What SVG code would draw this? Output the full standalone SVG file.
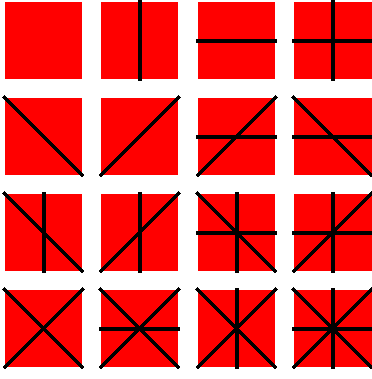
<svg xmlns="http://www.w3.org/2000/svg" width="372" height="379" viewBox="0 0 372 379">
<defs>
<style>
.sq{fill:#ff0000}
.ln{stroke:#000;stroke-width:4;shape-rendering:crispEdges;fill:none}
</style>
<rect id="s" class="sq" x="0" y="0" width="77" height="77"/>
<rect id="sw" class="sq" x="0" y="0" width="78" height="77"/>
<line id="v" class="ln" x1="38.5" y1="-2" x2="38.5" y2="79"/>
<line id="h" class="ln" x1="-2" y1="38.5" x2="79" y2="38.5"/>
<line id="d1" class="ln" x1="-1.5" y1="-1.5" x2="78.5" y2="78.5"/>
<line id="d2" class="ln" x1="-1.5" y1="78.5" x2="78.5" y2="-1.5"/>
</defs>
<rect width="372" height="379" fill="#fff"/>
<g id="c11" transform="translate(5,2)"><use href="#s"/></g>
<g id="c12" transform="translate(101,2)"><use href="#s"/><use href="#v"/></g>
<g id="c13" transform="translate(198,2)"><use href="#s"/><use href="#h"/></g>
<g id="c14" transform="translate(294,2)"><use href="#sw"/><use href="#v"/><use href="#h"/></g>
<g id="c21" transform="translate(5,98)"><use href="#s"/><use href="#d1"/></g>
<g id="c22" transform="translate(101,98)"><use href="#s"/><use href="#d2"/></g>
<g id="c23" transform="translate(198,98)"><use href="#s"/><use href="#h"/><use href="#d2"/></g>
<g id="c24" transform="translate(294,98)"><use href="#sw"/><use href="#h"/><use href="#d1"/></g>
<g id="c31" transform="translate(5,194)"><use href="#s"/><use href="#v"/><use href="#d1"/></g>
<g id="c32" transform="translate(101,194)"><use href="#s"/><use href="#v"/><use href="#d2"/></g>
<g id="c33" transform="translate(198,194)"><use href="#s"/><use href="#v"/><use href="#h"/><use href="#d1"/></g>
<g id="c34" transform="translate(294,194)"><use href="#sw"/><use href="#v"/><use href="#h"/><use href="#d2"/></g>
<g id="c41" transform="translate(5,290)"><use href="#s"/><use href="#d1"/><use href="#d2"/></g>
<g id="c42" transform="translate(101,290)"><use href="#s"/><use href="#h"/><use href="#d1"/><use href="#d2"/></g>
<g id="c43" transform="translate(198,290)"><use href="#s"/><use href="#v"/><use href="#d1"/><use href="#d2"/></g>
<g id="c44" transform="translate(294,290)"><use href="#sw"/><use href="#v"/><use href="#h"/><use href="#d1"/><use href="#d2"/></g>
</svg>
